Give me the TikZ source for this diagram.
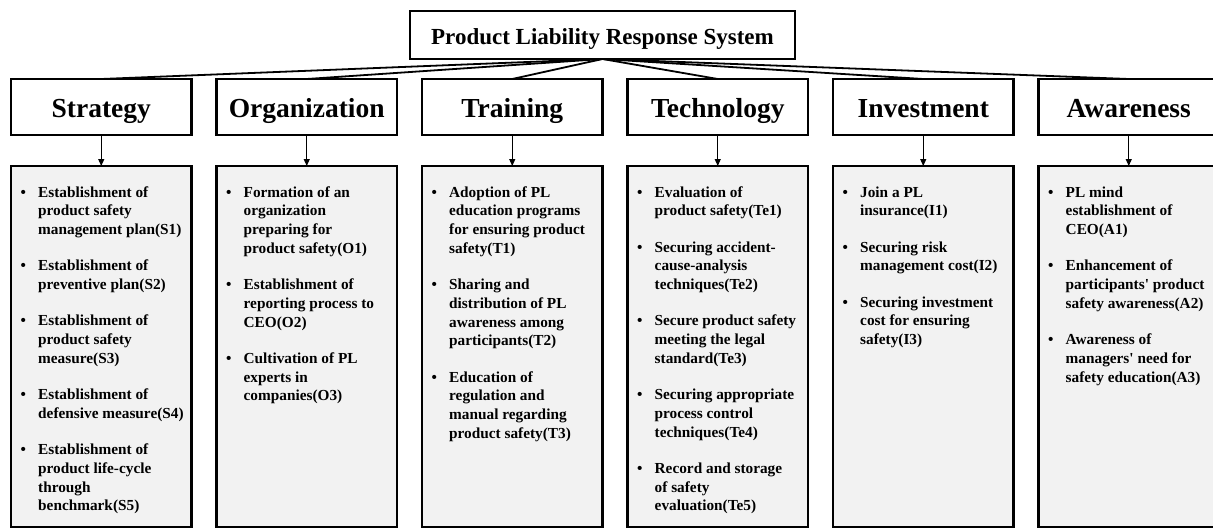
\documentclass[tikz,border=0pt]{standalone}
\usepackage{fontspec}
\setmainfont{Liberation Serif}
\usetikzlibrary{positioning,arrows.meta}

\newcommand{\itemlist}[1]{\begin{tabular}{@{}p{17.7pt}@{}l@{}}#1\end{tabular}}
\newcommand{\itemgap}{\\[17.6pt]}

\begin{document}
\begin{tikzpicture}[
  x=1pt, y=1pt,
  box/.style={draw, line width=2.8pt, outer sep=0pt, inner sep=0pt},
  system/.style={box, minimum width=385pt, minimum height=48pt,
    text height=18pt, text depth=0pt,
    font=\bfseries\fontsize{23}{27}\selectfont},
  area/.style={box, minimum width=180.5pt, minimum height=56pt,
    text height=20pt, text depth=0pt,
    font=\bfseries\fontsize{27.5}{32}\selectfont},
  items/.style={box, fill=black!5, minimum width=180.5pt, minimum height=361pt},
  itemtext/.style={inner sep=0pt, anchor=north west,
    font=\bfseries\fontsize{15.3}{18.7}\selectfont},
  link/.style={line width=1.8pt},
  down/.style={line width=1.2pt, -{Triangle[width=6pt,length=7pt]}},
  ]
  \useasboundingbox (0,0) rectangle (1213,-530);

  \node [system] (system) at (602.5,-35) {Product Liability Response System};

  \node [area] (strategy) at (101.25,-107) {Strategy};
  \node [area, right=25pt of strategy] (organization) {Organization};
  \node [area, right=25pt of organization] (training) {Training};
  \node [area, right=25pt of training] (technology) {Technology};
  \node [area, right=25pt of technology] (investment) {Investment};
  \node [area, right=25pt of investment] (awareness) {Awareness};

  \draw [link] (system.south) -- (strategy.north);
  \draw [link] (system.south) -- (organization.north);
  \draw [link] (system.south) -- (training.north);
  \draw [link] (system.south) -- (technology.north);
  \draw [link] (system.south) -- (investment.north);
  \draw [link] (system.south) -- (awareness.north);

  \node [items, below=31pt of strategy] (strategy-items) {};
  \node [items, below=31pt of organization] (organization-items) {};
  \node [items, below=31pt of training] (training-items) {};
  \node [items, below=31pt of technology] (technology-items) {};
  \node [items, below=31pt of investment] (investment-items) {};
  \node [items, below=31pt of awareness] (awareness-items) {};

  \draw [down] (strategy) -- (strategy-items);
  \draw [down] (organization) -- (organization-items);
  \draw [down] (training) -- (training-items);
  \draw [down] (technology) -- (technology-items);
  \draw [down] (investment) -- (investment-items);
  \draw [down] (awareness) -- (awareness-items);

  \node [itemtext] (strategy-text) at ([shift={(9.3,-18)}]strategy-items.north west) {\itemlist{
    \textbullet & Establishment of\\ & product safety\\ & management plan(S1)\itemgap
    \textbullet & Establishment of\\ & preventive plan(S2)\itemgap
    \textbullet & Establishment of\\ & product safety\\ & measure(S3)\itemgap
    \textbullet & Establishment of\\ & defensive measure(S4)\itemgap
    \textbullet & Establishment of\\ & product life-cycle\\ & through\\ & benchmark(S5)}};
  \node [itemtext] (organization-text) at ([shift={(9.3,-18)}]organization-items.north west) {\itemlist{
    \textbullet & Formation of an\\ & organization\\ & preparing for\\ & product safety(O1)\itemgap
    \textbullet & Establishment of\\ & reporting process to\\ & CEO(O2)\itemgap
    \textbullet & Cultivation of PL\\ & experts in\\ & companies(O3)}};
  \node [itemtext] (training-text) at ([shift={(9.3,-18)}]training-items.north west) {\itemlist{
    \textbullet & Adoption of PL\\ & education programs\\ & for ensuring product\\ & safety(T1)\itemgap
    \textbullet & Sharing and\\ & distribution of PL\\ & awareness among\\ & participants(T2)\itemgap
    \textbullet & Education of\\ & regulation and\\ & manual regarding\\ & product safety(T3)}};
  \node [itemtext] (technology-text) at ([shift={(9.3,-18)}]technology-items.north west) {\itemlist{
    \textbullet & Evaluation of\\ & product safety(Te1)\itemgap
    \textbullet & Securing accident-\\ & cause-analysis\\ & techniques(Te2)\itemgap
    \textbullet & Secure product safety\\ & meeting the legal\\ & standard(Te3)\itemgap
    \textbullet & Securing appropriate\\ & process control\\ & techniques(Te4)\itemgap
    \textbullet & Record and storage\\ & of safety\\ & evaluation(Te5)}};
  \node [itemtext] (investment-text) at ([shift={(9.3,-18)}]investment-items.north west) {\itemlist{
    \textbullet & Join a PL\\ & insurance(I1)\itemgap
    \textbullet & Securing risk\\ & management cost(I2)\itemgap
    \textbullet & Securing investment\\ & cost for ensuring\\ & safety(I3)}};
  \node [itemtext] (awareness-text) at ([shift={(9.3,-18)}]awareness-items.north west) {\itemlist{
    \textbullet & PL mind\\ & establishment of\\ & CEO(A1)\itemgap
    \textbullet & Enhancement of\\ & participants\textquotesingle{} product\\ & safety awareness(A2)\itemgap
    \textbullet & Awareness of\\ & managers\textquotesingle{} need for\\ & safety education(A3)}};
\end{tikzpicture}
\end{document}
